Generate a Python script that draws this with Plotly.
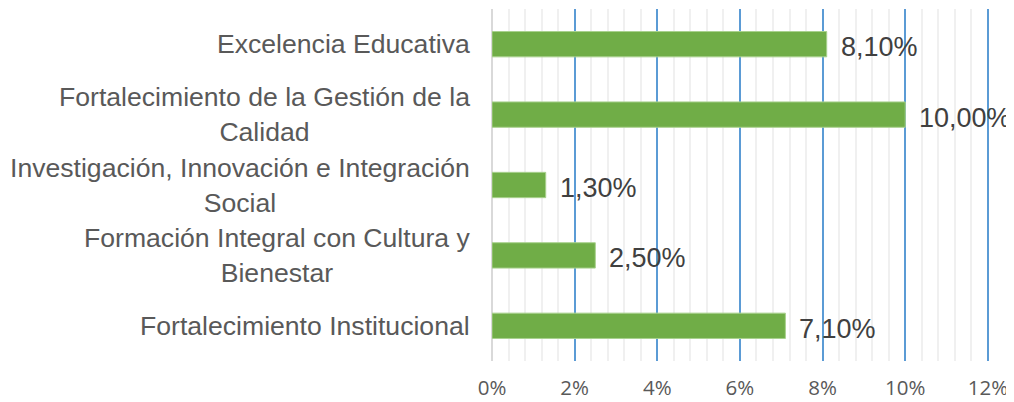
import plotly.graph_objects as go

# data (percent)
programas = [
    "Excelencia Educativa",
    "Fortalecimiento de la Gestión de la<br>Calidad",
    "Investigación, Innovación e Integración<br>Social",
    "Formación Integral con Cultura y<br>Bienestar",
    "Fortalecimiento Institucional",
]
avance = [8.10, 10.00, 1.30, 2.50, 7.10]

etiquetas = [f"{v:.2f}".replace(".", ",") + "%" for v in avance]

fig = go.Figure()
fig.add_trace(go.Bar(
    x=avance, y=programas, orientation="h",
    marker=dict(color="#70AD47", line=dict(color="#A9D18E", width=1)),
    width=0.36, hoverinfo="skip",
))

# category labels (centered multi-line, like the original)
for p in programas:
    fig.add_annotation(
        x=0, xref="paper", y=p, yref="y", text=p,
        xanchor="right", yanchor="middle", align="center", xshift=-20,
        showarrow=False,
        font=dict(family="Liberation Sans, Arial", size=26.6, color="#595959"),
    )

# value labels
for p, v, t in zip(programas, avance, etiquetas):
    fig.add_annotation(
        x=v, y=p, text=t, xanchor="left", yanchor="middle",
        xshift=12, yshift=-3, showarrow=False,
        font=dict(family="Liberation Sans, Arial", size=27, color="#404040"),
    )

fig.update_xaxes(
    range=[0, 12.1], dtick=2, tick0=0, ticksuffix="%",
    showgrid=True, gridcolor="#5B9BD5", gridwidth=2,
    minor=dict(dtick=0.4, showgrid=True, gridcolor="#F0F0F0", gridwidth=2),
    zeroline=True, zerolinecolor="#D9D9D9", zerolinewidth=2,
    showline=False, ticks="", ticklabelstandoff=12, automargin=False,
    tickfont=dict(family="Open Sans", size=20.5, color="#595959"),
)
fig.update_yaxes(
    autorange="reversed", showticklabels=False, showgrid=False,
    zeroline=False, showline=False, ticks="", automargin=False,
)
fig.update_layout(
    width=1006, height=394,
    margin=dict(l=484, r=22, t=1, b=41),
    plot_bgcolor="white", paper_bgcolor="white",
    showlegend=False, bargap=0.64,
)
fig.write_html("out.html")
